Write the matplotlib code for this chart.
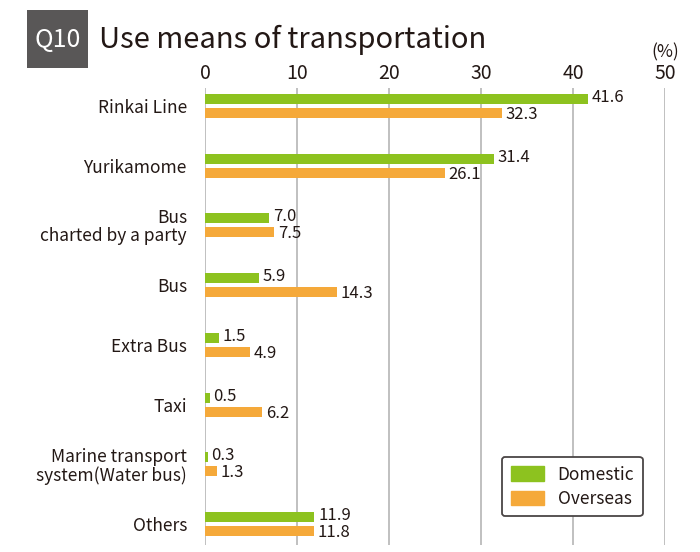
import matplotlib
matplotlib.use("Agg")
import matplotlib.pyplot as plt
from matplotlib.patches import Patch, Rectangle
import numpy as np

plt.rcParams['font.family'] = ['Noto Sans CJK KR', 'DejaVu Sans']

categories = ["Rinkai Line", "Yurikamome", "Bus\ncharted by a party", "Bus",
              "Extra Bus", "Taxi", "Marine transport\nsystem(Water bus)", "Others"]
domestic = [41.6, 31.4, 7.0, 5.9, 1.5, 0.5, 0.3, 11.9]
overseas = [32.3, 26.1, 7.5, 14.3, 4.9, 6.2, 1.3, 11.8]
ticks = [0, 10, 20, 30, 40, 50]

green = "#8DC21F"
orange = "#F5A93A"
text_c = "#231815"

fig = plt.figure(figsize=(7, 5.52), dpi=100)
ax = fig.add_axes([205/700, 1-545/552, (665-205)/700, (545-88)/552])

y = np.arange(len(categories))
off = 0.117
h = 0.168
ax.barh(y - off, domestic, height=h, color=green, zorder=3)
ax.barh(y + off, overseas, height=h, color=orange, zorder=3)

for yi, d, o in zip(y, domestic, overseas):
    ax.text(d + 0.4, yi - off - 0.025, f"{d:.1f}", va="center", ha="left", fontsize=12, color=text_c, zorder=4)
    ax.text(o + 0.4, yi + off + 0.025, f"{o:.1f}", va="center", ha="left", fontsize=12, color=text_c, zorder=4)

ax.set_xlim(0, 50)
ax.set_ylim(7.35, -0.30)
ax.set_xticks(ticks)
ax.set_xticklabels([str(t) for t in ticks], fontsize=14, color=text_c)
ax.xaxis.tick_top()
ax.tick_params(axis="x", length=0, pad=3)
ax.grid(axis="x", color="#b5b5b5", lw=1.2, zorder=0)
ax.set_yticks(y)
ax.set_yticklabels(categories, fontsize=12.5, color=text_c, linespacing=1.0)
ax.tick_params(axis="y", length=0, pad=13)
for s in ax.spines.values():
    s.set_visible(False)

# Title box
fig.patches.append(Rectangle((27/700, 1-68/552), 61/700, 58/552, transform=fig.transFigure,
                             facecolor="#595757", edgecolor="none"))
fig.text(57.5/700, 1-40/552, "Q10", color="white", fontsize=18, ha="center", va="center")
fig.text(99/700, 1-40/552, "Use means of transportation", color=text_c, fontsize=21, ha="left", va="center")
fig.text(665/700, 1-52/552, "(%)", color=text_c, fontsize=12.5, ha="center", va="center")

leg = ax.legend(handles=[Patch(color=green, label="Domestic"), Patch(color=orange, label="Overseas")],
                loc="upper left", bbox_to_anchor=((502-205)/460, 1-(457-88)/457),
                borderaxespad=0,
                fontsize=12.5, frameon=True, fancybox=True, handlelength=1.9, handleheight=0.9,
                borderpad=0.5, labelspacing=0.35, handletextpad=0.8, framealpha=1)
leg.get_frame().set_edgecolor("#4a4545")
leg.get_frame().set_linewidth(1.3)
for t in leg.get_texts():
    t.set_color(text_c)

fig.savefig("out.png", dpi=100)
